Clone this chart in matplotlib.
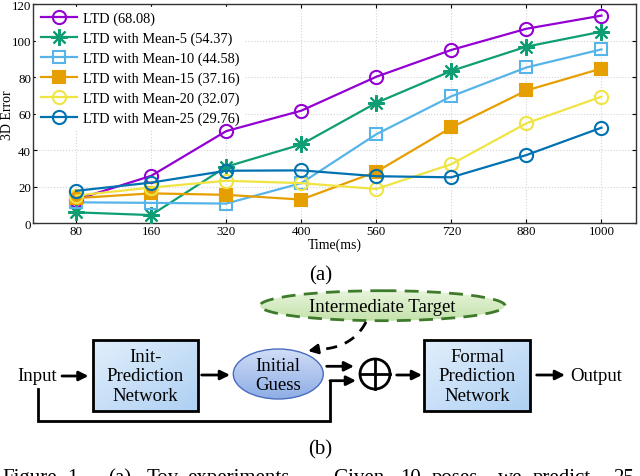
import matplotlib
matplotlib.use("Agg")
import matplotlib.pyplot as plt
import numpy as np
from matplotlib.colors import LinearSegmentedColormap
from matplotlib.patches import Ellipse, Rectangle, Circle

plt.rcParams["font.family"] = ["Liberation Serif", "DejaVu Serif"]

# chart data
times = ["80", "160", "320", "400", "560", "720", "880", "1000"]
ltd = [13, 26, 50.5, 61.7, 80.3, 95.0, 106.6, 113.8]
mean5 = [6.0, 4.5, 31.0, 43.2, 66.0, 83.5, 96.8, 105.0]
mean10 = [11.5, 11.2, 10.8, 22.0, 48.8, 69.6, 85.4, 95.3]
mean15 = [13.8, 16.4, 15.6, 13.0, 28.2, 52.5, 72.8, 84.8]
mean20 = [15.2, 19.6, 23.3, 22.0, 18.8, 32.4, 54.8, 69.4]
mean25 = [17.8, 22.3, 28.8, 29.0, 25.8, 25.2, 37.4, 52.4]

series = [
    ("LTD (68.08)", ltd, "#9400d3", "o", "none"),
    ("LTD with Mean-5 (54.37)", mean5, "#0f9e73", (8, 2, 0), "none"),
    ("LTD with Mean-10 (44.58)", mean10, "#56b4e9", "s", "none"),
    ("LTD with Mean-15 (37.16)", mean15, "#e69f00", "s", "#e69f00"),
    ("LTD with Mean-20 (32.07)", mean20, "#f0e442", "o", "none"),
    ("LTD with Mean-25 (29.76)", mean25, "#0072b2", "o", "none"),
]

fig = plt.figure(figsize=(6.4, 4.77), dpi=100)

# overlay in pixel coordinates for the diagram part
dg = fig.add_axes([0, 0, 1, 1])
dg.set_facecolor("none")
dg.axis("off")


def grad_patch(ax, make_patch, c1, c2, extent, diag=False, edge=None):
    clip = make_patch()
    clip.set_transform(ax.transData)
    clip.set_facecolor("none")
    clip.set_edgecolor("none")
    ax.add_patch(clip)
    t = np.linspace(0, 1, 64)
    if diag:
        g = (t[:, None] + t[None, :]) / 2
    else:
        g = np.repeat(t[:, None], 2, axis=1)
    cmap = LinearSegmentedColormap.from_list("g", [c1, c2])
    x0, x1, y0, y1 = extent
    ax.imshow(g, cmap=cmap, extent=(x0, x1, y1, y0), origin="upper",
              aspect="auto", clip_path=clip, zorder=1, interpolation="bilinear")
    e = make_patch()
    e.set_facecolor("none")
    for k, v in (edge or {}).items():
        getattr(e, "set_" + k)(v)
    e.set_zorder(2)
    ax.add_patch(e)


fs_d = 13.5
arrow_kw = dict(arrowstyle="-|>", lw=2, color="k", mutation_scale=14, shrinkA=0, shrinkB=0)

# intermediate target ellipse
grad_patch(dg, lambda: Ellipse((382.5, 306.7), 245, 30), "#e6f4da", "#c4e2ab",
           (260, 505, 291.7, 321.7),
           edge=dict(edgecolor="#3d7a2a", linewidth=2, linestyle=(0, (5, 3))))
dg.text(382.5, 307.5, "Intermediate Target", ha="center", va="center", fontsize=fs_d, zorder=3)

# boxes
for x0, x1, label in [(92.7, 197.7, "Init-\nPrediction\nNetwork"),
                      (424.3, 530, "Formal\nPrediction\nNetwork")]:
    grad_patch(dg, lambda: Rectangle((x0, 341), x1 - x0, 70.7), "#e2effc", "#aed0f3",
               (x0, x1, 341, 411.7), diag=True,
               edge=dict(edgecolor="k", linewidth=2))
    dg.text((x0 + x1) / 2, 377, label, ha="center", va="center", fontsize=fs_d,
            linespacing=1.2, zorder=3)

# initial guess ellipse
grad_patch(dg, lambda: Ellipse((278.3, 375), 90, 50), "#d0ddf6", "#8eaee6",
           (233.3, 323.3, 350, 400),
           edge=dict(edgecolor="#4a6cc0", linewidth=1))
dg.text(278.3, 376, "Initial\nGuess", ha="center", va="center", fontsize=fs_d,
        linespacing=1.15, zorder=3)

# oplus
dg.add_patch(Circle((375, 375), 15, facecolor="white", edgecolor="k", lw=2, zorder=2))
dg.plot([360, 390], [375, 375], color="k", lw=2, zorder=3)
dg.plot([375, 375], [360, 390], color="k", lw=2, zorder=3)

# texts
dg.text(17, 377, "Input", ha="left", va="center", fontsize=fs_d)
dg.text(570, 377, "Output", ha="left", va="center", fontsize=fs_d)
dg.text(321, 276, "(a)", ha="center", va="center", fontsize=15)
dg.text(320, 450, "(b)", ha="center", va="center", fontsize=15)

# arrows
for (xa, ya), (xb, yb) in [((62, 377), (88.5, 377)), ((201.7, 376), (230, 376)),
                           ((326.7, 367.3), (354, 367.3)), ((330, 381.7), (356, 381.7)),
                           ((396.7, 376), (422, 376)), ((536.7, 376), (565, 376))]:
    dg.annotate("", xy=(xb, yb), xytext=(xa, ya), arrowprops=arrow_kw)

# bypass line from input
dg.plot([38.3, 38.3, 330, 330], [390, 421.7, 421.7, 381.7], color="k", lw=2,
        solid_joinstyle="miter")

# dashed curve from intermediate target to initial guess
p0 = np.array([366, 323.0])
pc = np.array([352, 350.0])
p1 = np.array([316, 350.5])
tt = np.linspace(0, 1, 50)[:, None]
curve = (1 - tt) ** 2 * p0 + 2 * (1 - tt) * tt * pc + tt ** 2 * p1
dg.plot(curve[:, 0], curve[:, 1], color="k", lw=2, linestyle=(0, (4, 3)))
dg.annotate("", xy=(308, 352), xytext=(316, 350.5), arrowprops=arrow_kw)

# caption (cut at bottom, as in the source)
for x, w in [(2.7, "Figure"), (67, "1."), (108, "(a)"), (147, "Toy"), (187, "experiments."),
             (333, "Given"), (400, "10"), (432, "poses,"), (498, "we"), (533, "predict"),
             (613, "25")]:
    dg.text(x, 483.5, w, ha="left", va="baseline", fontsize=15)

dg.set_xlim(0, 640)
dg.set_ylim(477, 0)

# chart
ax = fig.add_axes([33.3 / 640, 1 - 224.3 / 477, (636 - 33.3) / 640, (224.3 - 5.3) / 477])
x = np.arange(len(times))
for label, vals, color, marker, mfc in series:
    ms = 12 if isinstance(marker, tuple) else (8.5 if marker == "s" else 9.5)
    ax.plot(x, vals, color=color, lw=1.6, marker=marker, markersize=ms,
            markerfacecolor=mfc, markeredgecolor=color, markeredgewidth=1.5, label=label,
            zorder=3)

ax.set_xlim(-0.57, 7.46)
ax.set_ylim(0, 120)
ax.set_yticks(np.arange(0, 121, 20))
ax.set_xticks(x)
ax.set_xticklabels(times)
ax.tick_params(direction="in", length=3, labelsize=9.3, top=True, right=True, pad=1.5)
ax.grid(True, color="#d4d4d4", linestyle=":", linewidth=0.8)
ax.set_axisbelow(True)
ax.set_xlabel("Time(ms)", fontsize=10, labelpad=0)
ax.set_ylabel("3D Error", fontsize=10)
ax.yaxis.set_label_coords(-0.032, 0.5)
for s in ax.spines.values():
    s.set_color("#333333")
    s.set_linewidth(1)

leg = ax.legend(loc="upper left", fontsize=10.4, frameon=True, framealpha=1,
                edgecolor="white", fancybox=False, borderaxespad=0.2, borderpad=0.3,
                handlelength=2.5, handletextpad=0.45, labelspacing=0.45)
leg.set_zorder(2)

fig.savefig("out.png", dpi=100)
